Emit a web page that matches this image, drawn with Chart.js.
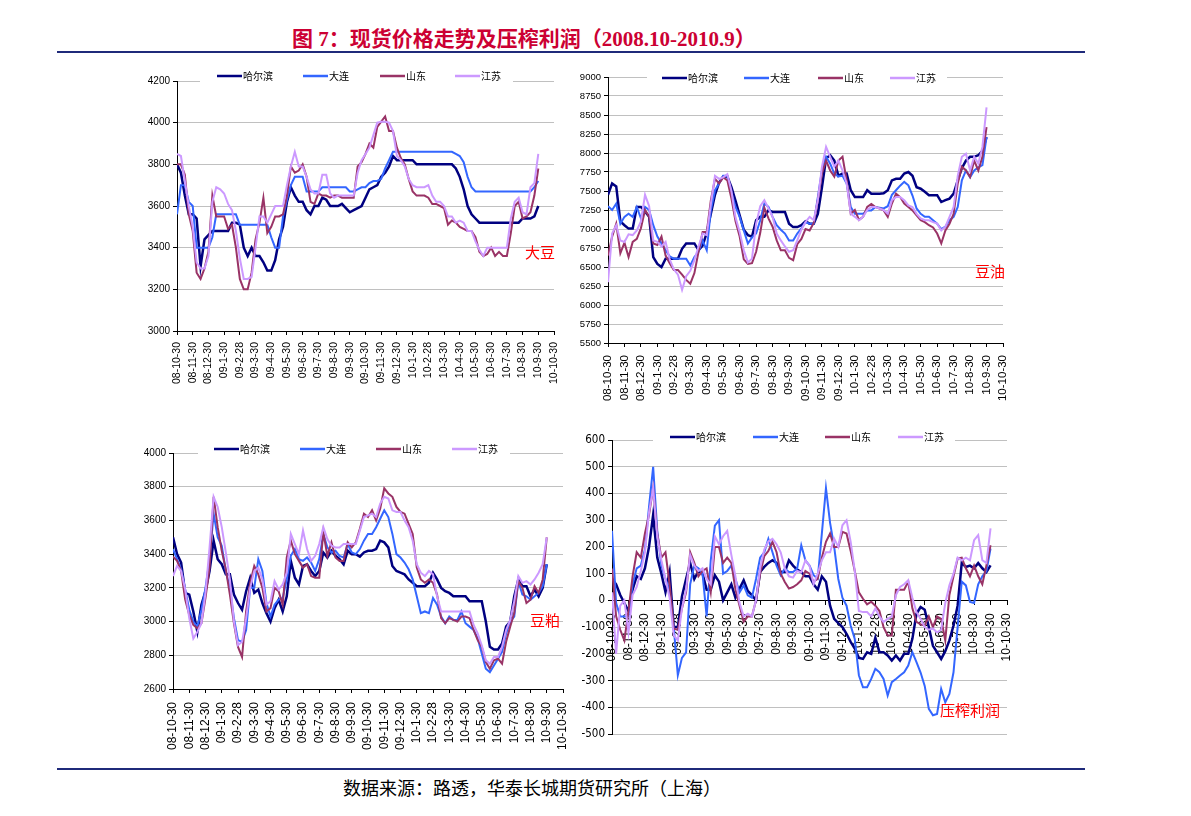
<!DOCTYPE html>
<html>
<head>
<meta charset="utf-8">
<script src="https://cdn.jsdelivr.net/npm/chart.js@4.4.0/dist/chart.umd.min.js"></script>
<style>
  html, body { margin: 0; padding: 0; background: #fff; }
  body { width: 1191px; height: 816px; position: relative; overflow: hidden; }
  #title { position: absolute; left: 292px; top: 22px; white-space: nowrap;
    font: bold 21px "Liberation Serif", "Noto Sans CJK SC", serif; color: #cc0033; }
  .rule { position: absolute; left: 57px; width: 1028px; height: 2px; background: #1f2a7a; }
  #footer { position: absolute; left: 343px; top: 774px; white-space: nowrap;
    font: 18px "Noto Sans CJK SC", sans-serif; color: #000; }
  canvas { position: absolute; }
</style>
</head>
<body>
<div id="title">图 7：现货价格走势及压榨利润（2008.10-2010.9）</div>
<div class="rule" style="top:51px"></div>
<canvas id="c1" width="440" height="330" style="left:130px;top:60px"></canvas>
<canvas id="c2" width="460" height="360" style="left:560px;top:58px"></canvas>
<canvas id="c3" width="455" height="330" style="left:125px;top:435px"></canvas>
<canvas id="c4" width="460" height="330" style="left:560px;top:420px"></canvas>
<div class="rule" style="top:768px"></div>
<div id="footer">数据来源：路透，华泰长城期货研究所（上海）</div>

<script>
// ---------- tick labels (month ends) ----------
const monthLabels = ['08-10-30','08-11-30','08-12-30','09-1-30','09-2-28','09-3-30','09-4-30',
  '09-5-30','09-6-30','09-7-30','09-8-30','09-9-30','09-10-30','09-11-30','09-12-30',
  '10-1-30','10-2-28','10-3-30','10-4-30','10-5-30','10-6-30','10-7-30','10-8-30',
  '10-9-30','10-10-30'];
const seriesNames = ['哈尔滨','大连','山东','江苏'];
const SAMPLES_PER_MONTH = 4; // one reading per quarter month, starting 08-10-30

// ---------- 大豆 ----------
const soyHarbin = [3800,3760,3650,3560,3560,3540,3310,3440,3460,3480,
 3480,3480,3480,3480,3520,3520,3510,3400,3360,3400,
 3360,3360,3330,3290,3290,3340,3440,3500,3620,3690,
 3650,3620,3620,3580,3560,3600,3600,3640,3630,3600,
 3600,3600,3610,3590,3570,3580,3590,3600,3640,3680,
 3690,3700,3740,3760,3790,3840,3820,3820,3820,3820,
 3820,3800,3800,3800,3800,3800,3800,3800,3800,3800,
 3800,3780,3740,3680,3600,3560,3540,3520,3520,3520,
 3520,3520,3520,3520,3520,3520,3520,3520,3540,3540,
 3540,3550,3600];
const soyDalian = [3560,3700,3700,3620,3600,3400,3400,3400,3400,3450,
 3560,3560,3560,3560,3560,3560,3510,3510,3510,3510,
 3510,3510,3510,3510,3450,3400,3400,3550,3630,3700,
 3740,3740,3740,3670,3670,3670,3670,3690,3690,3690,
 3690,3690,3690,3690,3670,3670,3680,3690,3690,3710,
 3720,3720,3730,3780,3820,3860,3860,3860,3860,3860,
 3860,3860,3860,3860,3860,3860,3860,3860,3860,3860,
 3860,3850,3840,3810,3740,3690,3670,3670,3670,3670,
 3670,3670,3670,3670,3670,3670,3670,3670,3670,3670,
 3670,3690,3720];
const soyShandong = [3800,3800,3750,3560,3480,3280,3250,3300,3380,3650,
 3550,3550,3550,3490,3510,3400,3250,3200,3200,3280,
 3440,3520,3640,3470,3500,3550,3550,3560,3650,3790,
 3760,3770,3800,3740,3620,3610,3660,3650,3650,3640,
 3650,3650,3640,3640,3640,3640,3790,3810,3850,3900,
 3880,3980,4005,4030,3960,3960,3880,3830,3800,3730,
 3670,3650,3650,3650,3640,3610,3610,3600,3590,3510,
 3530,3520,3500,3490,3480,3480,3450,3380,3360,3370,
 3400,3360,3380,3360,3360,3470,3600,3620,3540,3550,
 3570,3650,3780];
const soyJiangsu = [3850,3840,3720,3600,3500,3330,3300,3300,3360,3620,
 3690,3680,3660,3610,3580,3480,3350,3250,3250,3260,
 3400,3550,3550,3520,3560,3600,3600,3600,3700,3790,
 3860,3790,3790,3740,3680,3660,3660,3750,3750,3660,
 3640,3650,3650,3650,3650,3650,3760,3820,3850,3880,
 3940,4000,4005,4005,4000,3960,3840,3820,3790,3730,
 3700,3690,3690,3690,3700,3650,3620,3620,3600,3550,
 3550,3520,3530,3520,3480,3480,3430,3390,3360,3400,
 3400,3400,3400,3400,3400,3540,3620,3640,3570,3560,
 3690,3710,3850];

// ---------- 豆油 ----------
const oilHarbin = [7450,7600,7560,7100,7050,7005,7005,7290,7290,7230,
 7160,6630,6540,6500,6610,6610,6610,6610,6740,6810,
 6810,6810,6720,6780,6950,7200,7450,7610,7690,7690,
 7550,7370,7180,6990,6920,6900,7115,7160,7160,7245,
 7225,7225,7225,7225,7070,7025,7025,7050,7100,7070,
 7070,7200,7550,7930,7970,7900,7700,7730,7730,7510,
 7420,7420,7420,7510,7465,7465,7465,7470,7510,7640,
 7660,7660,7730,7750,7700,7550,7530,7490,7445,7445,
 7445,7355,7380,7400,7465,7640,7800,7900,7950,7950,
 7970,8030,8210];
const oilDalian = [7300,7250,7335,7070,7160,7200,7160,7290,7140,7290,
 7250,7050,6900,6810,6720,6640,6610,6610,6610,6610,
 6520,6630,6700,6850,6720,7250,7510,7600,7700,7700,
 7480,7290,7160,6980,6810,6890,6940,7115,7335,7290,
 7160,7050,6990,6940,6850,6850,6940,7010,7090,7070,
 7070,7420,7770,7950,7860,7730,7690,7700,7600,7290,
 7200,7200,7200,7245,7245,7290,7280,7270,7300,7450,
 7510,7570,7620,7575,7440,7270,7200,7160,7160,7115,
 7070,7000,7030,7115,7160,7290,7640,7770,7680,7770,
 7810,7840,8210];
const oilShandong = [6650,6900,7070,6680,6820,6630,6830,6870,7010,7250,
 7160,6810,6790,6900,6650,6550,6460,6460,6400,6330,
 6280,6420,6700,6960,6960,7380,7660,7600,7680,7640,
 7400,7100,6900,6600,6540,6550,6700,6950,7280,7140,
 7030,6850,6720,6720,6620,6590,6800,6870,7000,6980,
 7080,7380,7730,7900,7770,7690,7900,7950,7640,7200,
 7250,7120,7160,7290,7330,7290,7270,7245,7160,7335,
 7465,7420,7335,7290,7245,7180,7115,7090,7050,7020,
 6940,6810,6980,7070,7200,7600,7820,7770,7685,7900,
 7770,7950,8340];
const oilJiangsu = [6300,6940,7050,6850,6830,6930,6920,6980,7100,7450,
 7300,6850,6830,6770,6830,6600,6470,6400,6200,6380,
 6450,6590,6770,6940,6920,7330,7700,7660,7680,7720,
 7500,7150,6960,6720,6560,6610,7070,7300,7380,7270,
 7160,6940,6850,6770,6700,6720,6850,6990,7090,7160,
 7115,7380,7820,8080,7950,7820,7900,7770,7600,7200,
 7160,7115,7160,7250,7290,7290,7270,7250,7200,7380,
 7420,7420,7380,7310,7290,7200,7140,7115,7115,7090,
 7070,6980,7030,7160,7290,7700,7950,7990,7770,7950,
 7860,8080,8600];

// ---------- 豆粕 ----------
const mealHarbin = [3500,3400,3350,3170,3160,3060,2940,3100,3180,3300,
 3480,3370,3340,3280,3280,3160,3110,3070,3180,3260,
 3170,3190,3110,3050,3000,3080,3130,3060,3150,3360,
 3260,3220,3330,3340,3300,3270,3300,3410,3380,3420,
 3390,3370,3340,3420,3400,3400,3385,3410,3420,3420,
 3430,3480,3470,3440,3330,3300,3290,3280,3250,3230,
 3210,3210,3210,3230,3290,3250,3200,3180,3170,3150,
 3150,3150,3150,3120,3120,3120,3120,3000,2850,2834,
 2834,2870,2970,3000,3150,3250,3210,3210,3150,3190,
 3150,3200,3340];
const mealDalian = [3430,3370,3310,3190,3070,3000,2970,3070,3200,3370,
 3640,3500,3450,3300,3200,3020,2890,2880,2950,3200,
 3200,3370,3300,3110,3030,3100,3130,3140,3250,3390,
 3430,3370,3360,3380,3350,3300,3370,3520,3440,3410,
 3420,3390,3380,3460,3410,3400,3430,3480,3520,3520,
 3560,3610,3660,3620,3520,3400,3380,3350,3310,3250,
 3150,3050,3060,3050,3140,3100,3030,2990,3030,3010,
 3010,3060,2990,2970,2950,2900,2810,2720,2700,2740,
 2780,2820,2930,3000,3030,3240,3160,3150,3130,3150,
 3170,3210,3340];
const mealShandong = [3385,3360,3300,3130,3040,2980,2960,2990,3140,3320,
 3740,3560,3420,3310,3160,2990,2850,2790,3060,3230,
 3330,3280,3200,3060,3080,3200,3180,3100,3380,3480,
 3400,3360,3320,3340,3270,3260,3260,3530,3390,3470,
 3380,3360,3360,3470,3440,3470,3550,3640,3620,3660,
 3600,3670,3790,3760,3740,3680,3650,3640,3580,3520,
 3320,3250,3230,3250,3230,3160,3020,2990,3020,3010,
 3000,3030,3030,3020,2950,2890,2850,2760,2720,2770,
 2780,2750,2880,2970,3050,3240,3200,3110,3130,3210,
 3170,3250,3500];
const mealJiangsu = [3270,3330,3300,3190,3020,2900,2940,2990,3170,3440,
 3740,3680,3560,3410,3250,3000,2860,2880,3020,3200,
 3300,3320,3250,3100,3120,3240,3190,3220,3290,3520,
 3460,3400,3540,3430,3360,3390,3460,3560,3490,3450,
 3440,3440,3460,3460,3460,3460,3540,3620,3630,3640,
 3620,3700,3740,3730,3660,3650,3650,3600,3560,3480,
 3340,3290,3270,3300,3280,3150,3060,3060,3060,3060,
 3060,3060,3060,3060,2980,2930,2860,2770,2750,2790,
 2790,2850,2950,3010,3120,3270,3230,3240,3220,3250,
 3290,3340,3500];

// ---------- 压榨利润 ----------
const crushHarbin = [81,60,20,-10,-40,40,90,80,120,200,
 320,160,100,31,106,-100,-100,15,80,140,
 80,110,100,40,40,94,70,0,30,60,
 10,44,75,35,20,0,106,125,140,150,
 140,106,106,150,130,115,106,90,90,60,
 40,90,70,-20,-69,-85,-100,-125,-155,-180,
 -215,-219,-194,-200,-140,-194,-194,-206,-225,-206,
 -225,-200,-200,-144,-50,-25,-35,-100,-170,-194,
 -219,-190,-150,-94,-20,140,125,130,120,140,
 120,106,131];
const crushDalian = [260,-10,-60,-60,-60,60,120,130,190,350,
 500,260,130,80,40,-100,-280,-215,-195,60,
 130,120,100,-60,150,280,300,100,110,130,
 80,30,56,19,10,80,160,180,230,180,
 130,94,119,106,106,119,206,150,130,94,
 81,250,420,290,200,80,10,-20,-94,-144,
 -280,-325,-325,-294,-256,-269,-294,-356,-306,-294,
 -281,-269,-244,-194,-231,-270,-320,-406,-430,-425,
 -331,-381,-350,-269,-100,70,56,-6,-10,60,
 90,110,194];
const crushShandong = [119,-60,-110,-150,-40,90,180,160,250,320,
 420,250,160,180,60,-106,-110,-30,30,180,
 140,90,110,120,31,200,200,140,160,140,
 40,-20,-80,-60,-60,0,100,165,185,219,
 180,100,69,44,50,60,75,110,100,70,
 80,160,219,250,200,200,256,250,185,110,
 30,6,-15,-5,-20,-40,-100,-131,-131,40,
 40,40,70,-30,-80,-90,-94,-60,-100,-60,
 -69,-150,20,90,156,160,120,90,130,90,
 60,131,206];
const crushJiangsu = [30,-200,-20,0,-120,20,50,110,180,330,
 420,240,150,80,10,-130,-150,-30,40,170,
 130,110,120,80,60,240,210,240,260,170,
 90,-10,-60,-50,-60,0,120,190,220,230,
 210,180,120,90,85,110,105,150,130,60,
 100,150,180,180,231,200,281,300,220,110,
 -40,-44,-44,-60,-30,-60,-81,-69,-60,20,
 50,60,75,10,-44,-69,-100,-110,-105,-120,
 -110,-10,56,100,160,150,160,150,225,244,
 150,140,269];

// ---------- styles ----------
const seriesColors = ['#000080', '#3366ff', '#993366', '#cc99ff'];
const seriesWidths = [2.5, 2, 2, 2];
const tickFamily = '"Liberation Sans", Arial, sans-serif';
const narrowFamily = '"Liberation Sans Narrow", "Arial Narrow", "DejaVu Sans Condensed", sans-serif';

const panelDeco = {
  id: 'panelDeco',
  afterDraw(chart, args, o) {
    if (!o || !o.lineX) return;
    const ctx = chart.ctx;
    ctx.save();
    ctx.fillStyle = '#ffffff';
    ctx.fillRect(o.boxL, o.legendY - 7, o.boxR - o.boxL, 14);
    ctx.font = '10px "Noto Sans CJK SC", sans-serif';
    ctx.textBaseline = 'middle';
    ctx.textAlign = 'left';
    chart.data.datasets.forEach((ds, i) => {
      const x = o.lineX[i];
      ctx.strokeStyle = ds.borderColor;
      ctx.lineWidth = 2.5;
      ctx.beginPath();
      ctx.moveTo(x, o.legendY);
      ctx.lineTo(x + 25, o.legendY);
      ctx.stroke();
      ctx.fillStyle = '#000';
      ctx.fillText(ds.label, x + 26, o.legendY);
    });
    ctx.fillStyle = '#ff0000';
    ctx.font = '15px "Noto Sans CJK SC", sans-serif';
    ctx.textAlign = 'center';
    ctx.fillText(o.tag, o.tagX, o.tagY);
    ctx.restore();
  }
};

function makePanel(cfg, arrays) {
  const datasets = arrays.map((arr, i) => ({
    label: seriesNames[i],
    data: arr.map((v, k) => ({ x: k / SAMPLES_PER_MONTH, y: v })),
    borderColor: seriesColors[i],
    backgroundColor: seriesColors[i],
    borderWidth: seriesWidths[i],
    pointRadius: 0,
    tension: 0,
    fill: false,
    order: 4 - i
  }));
  return new Chart(document.getElementById(cfg.id), {
    type: 'line',
    data: { datasets },
    plugins: [panelDeco],
    options: {
      responsive: false,
      animation: false,
      devicePixelRatio: 1,
      layout: { padding: cfg.pad },
      plugins: {
        legend: { display: false },
        tooltip: { enabled: false },
        panelDeco: cfg.deco
      },
      scales: {
        x: {
          type: 'linear',
          min: 0, max: monthLabels.length - 1,
          position: cfg.xAtZero ? { y: 0 } : 'bottom',
          afterBuildTicks: s => { s.ticks = monthLabels.map((_, i) => ({ value: i })); },
          ticks: {
            autoSkip: false, maxRotation: 90, minRotation: 90,
            padding: cfg.xPad, color: '#000',
            font: { size: cfg.xFont, family: tickFamily },
            callback: v => monthLabels[v]
          },
          grid: { drawOnChartArea: false, drawTicks: true, tickLength: 4, tickColor: '#000' },
          border: { color: '#000', width: 1 },
          afterFit: s => {
            if (!cfg.xAtZero) s.height = cfg.xH;
            s.paddingLeft = 0; s.paddingRight = 0;
          }
        },
        y: {
          min: cfg.yMin, max: cfg.yMax,
          afterBuildTicks: s => {
            const t = [];
            for (let v = cfg.yMin; v <= cfg.yMax + 1e-9; v += cfg.yStep) t.push({ value: v });
            s.ticks = t;
          },
          ticks: { color: '#000', padding: 3, font: { size: cfg.yFont, family: cfg.yFamily || tickFamily },
            callback: v => String(v) },
          grid: { color: '#c0c0c0', lineWidth: 1, tickColor: '#000', tickLength: 4 },
          border: { color: '#000', width: 1 },
          afterFit: s => { s.width = cfg.yW; }
        }
      }
    }
  });
}

makePanel({ id: 'c1', pad: { top: 21, right: 16, bottom: 0, left: 0 }, yW: 47, xH: 59,
  yMin: 3000, yMax: 4200, yStep: 200, xFont: 10.5, yFont: 10, xPad: 7,
  deco: { legendY: 16, boxL: 70, boxR: 383, lineX: [87, 173, 250, 325], tag: '大豆', tagX: 410, tagY: 192 } },
  [soyHarbin, soyDalian, soyShandong, soyJiangsu]);

makePanel({ id: 'c2', pad: { top: 19, right: 17, bottom: 0, left: 0 }, yW: 48, xH: 75,
  yMin: 5500, yMax: 9000, yStep: 250, xFont: 11.5, yFont: 9.5, xPad: 8,
  deco: { legendY: 20, boxL: 87, boxR: 387, lineX: [102, 184, 258, 330], tag: '豆油', tagX: 430, tagY: 213 } },
  [oilHarbin, oilDalian, oilShandong, oilJiangsu]);

makePanel({ id: 'c3', pad: { top: 18, right: 17, bottom: 0, left: 0 }, yW: 48, xH: 76,
  yMin: 2600, yMax: 4000, yStep: 200, xFont: 12, yFont: 10, xPad: 9,
  deco: { legendY: 14, boxL: 73, boxR: 385, lineX: [89, 175, 251, 327], tag: '豆粕', tagX: 420, tagY: 185 } },
  [mealHarbin, mealDalian, mealShandong, mealJiangsu]);

makePanel({ id: 'c4', pad: { top: 20, right: 13, bottom: 16, left: 0 }, yW: 52, xAtZero: true,
  yMin: -500, yMax: 600, yStep: 100, xFont: 12, yFont: 11.5, yFamily: narrowFamily, xPad: 9,
  deco: { legendY: 17, boxL: 93, boxR: 395, lineX: [110, 193, 265, 338], tag: '压榨利润', tagX: 410, tagY: 290 } },
  [crushHarbin, crushDalian, crushShandong, crushJiangsu]);
</script>
</body>
</html>
